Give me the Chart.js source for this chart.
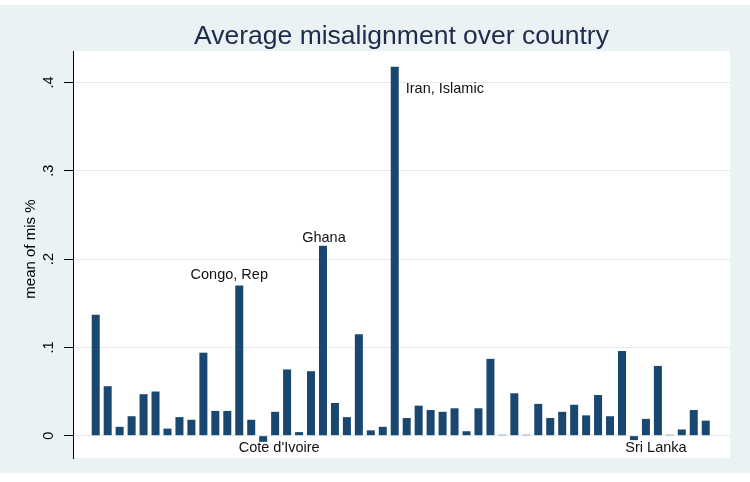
<!DOCTYPE html>
<html>
<head>
<meta charset="utf-8">
<script src="https://cdn.jsdelivr.net/npm/chart.js@4/dist/chart.umd.min.js"></script>
<style>
  html, body { margin: 0; padding: 0; background: #ffffff; }
  #wrap { width: 750px; height: 482px; position: relative; }
</style>
</head>
<body>
<div id="wrap"><canvas id="chart"></canvas></div>
<script>
// mean of mis % by country, in plotted order
const misMeans = [
  0.137, 0.056, 0.010, 0.022, 0.047, 0.050, 0.008, 0.021, 0.018, 0.094,
  0.028, 0.028, 0.170, 0.018, -0.007, 0.027, 0.075, 0.004, 0.073, 0.215,
  0.037, 0.021, 0.115, 0.006, 0.010, 0.418, 0.020, 0.034, 0.029, 0.027,
  0.031, 0.005, 0.031, 0.087, 0.001, 0.048, 0.001, 0.036, 0.020, 0.027,
  0.035, 0.023, 0.046, 0.022, 0.096, -0.005, 0.019, 0.079, 0.001, 0.007,
  0.029, 0.017
];

// only the labelled countries are known from the picture
const countryLabels = misMeans.map(() => "");
countryLabels[12] = "Congo, Rep";
countryLabels[14] = "Cote d'Ivoire";
countryLabels[19] = "Ghana";
countryLabels[25] = "Iran, Islamic";
countryLabels[45] = "Sri Lanka";

const yTicks = [0, 0.1, 0.2, 0.3, 0.4];
const yTickLabels = ["0", ".1", ".2", ".3", ".4"];

const chartTitle = "Average misalignment over country";
const yTitle = "mean of mis %";

const FONT = "'Liberation Sans', Arial, sans-serif";
const BG = "#eaf2f3";
const NAVY = "#1a476f";

// where each marker label sits relative to its bar (Stata-like clock positions)
const labelPlacement = {
  "Congo, Rep":    { pos: "top",      dx: -10, dy: -11 },
  "Ghana":         { pos: "top",      dx: 1,   dy: -8 },
  "Iran, Islamic": { pos: "topright", dx: 11,  dy: 22 },
  "Cote d'Ivoire": { pos: "base",     dx: 16,  dy: 12 },
  "Sri Lanka":     { pos: "base",     dx: 22,  dy: 12 }
};

const backdrop = {
  id: "backdrop",
  beforeDraw(chart) {
    const ctx = chart.ctx;
    const area = chart.chartArea;
    ctx.save();
    ctx.fillStyle = "#ffffff";
    ctx.fillRect(0, 0, chart.width, chart.height);
    ctx.fillStyle = BG;
    ctx.fillRect(0, 5, chart.width, 468);
    ctx.fillStyle = "#ffffff";
    ctx.fillRect(area.left, area.top, area.right - area.left, area.bottom - area.top);
    // title, centred over the plot region like Stata does
    ctx.fillStyle = "#1d2b4d";
    ctx.font = "26.5px " + FONT;
    ctx.textAlign = "center";
    ctx.textBaseline = "middle";
    ctx.fillText(chartTitle, (area.left + area.right) / 2, 37);
    ctx.restore();
  }
};

const rotatedTicks = {
  id: "rotatedTicks",
  afterDraw(chart) {
    const ctx = chart.ctx;
    const y = chart.scales.y;
    ctx.save();
    ctx.fillStyle = "#000000";
    ctx.textAlign = "center";
    ctx.textBaseline = "middle";
    ctx.font = "14.5px " + FONT;
    yTicks.forEach(function (v, i) {
      ctx.save();
      ctx.translate(49, y.getPixelForValue(v));
      ctx.rotate(-Math.PI / 2);
      ctx.fillText(yTickLabels[i], 0, 0);
      ctx.restore();
    });
    // axis title, a little above the middle of the tick range
    ctx.font = "15px " + FONT;
    ctx.translate(31, (y.getPixelForValue(0) + y.getPixelForValue(0.4)) / 2 - 10);
    ctx.rotate(-Math.PI / 2);
    ctx.fillText(yTitle, 0, 0);
    ctx.restore();
  }
};

const markerLabels = {
  id: "markerLabels",
  afterDatasetsDraw(chart) {
    const ctx = chart.ctx;
    const bars = chart.getDatasetMeta(0).data;
    ctx.save();
    ctx.fillStyle = "#111111";
    ctx.font = "14.5px " + FONT;
    ctx.textBaseline = "middle";
    countryLabels.forEach(function (name, i) {
      if (!name) return;
      const p = labelPlacement[name];
      const bar = bars[i];
      const x = bar.x + p.dx;
      const y = (p.pos === "base" ? bar.base : bar.y) + p.dy;
      ctx.textAlign = p.pos === "topright" ? "left" : "center";
      ctx.fillText(name, x, y);
    });
    ctx.restore();
  }
};

new Chart(document.getElementById("chart"), {
  type: "bar",
  data: {
    datasets: [{
      label: yTitle,
      data: misMeans.map((v, i) => ({ x: i, y: v })),
      backgroundColor: NAVY,
      borderWidth: 0,
      categoryPercentage: 1,
      barPercentage: 0.67
    }]
  },
  options: {
    responsive: true,
    maintainAspectRatio: false,
    animation: false,
    layout: { padding: { left: 0, right: 20, top: 51, bottom: 0 } },
    plugins: {
      legend: { display: false },
      tooltip: { enabled: false },
      title: { display: false }
    },
    scales: {
      x: {
        type: "linear",
        offset: false,
        min: -1.9,
        max: 53.03,
        grid: { display: false },
        border: { display: false },
        ticks: { display: false },
        afterFit(scale) { scale.height = 24; }
      },
      y: {
        min: -0.0253,
        max: 0.4357,
        afterBuildTicks(scale) {
          scale.ticks = yTicks.map(v => ({ value: v }));
        },
        ticks: { display: false },
        grid: {
          color: "#e3ebee",
          tickColor: "#000000",
          tickLength: 9,
          drawOnChartArea: true
        },
        border: { display: true, color: "#000000", width: 1 },
        title: { display: false },
        afterFit(scale) { scale.width = 73; }
      }
    }
  },
  plugins: [backdrop, rotatedTicks, markerLabels]
});
</script>
</body>
</html>
